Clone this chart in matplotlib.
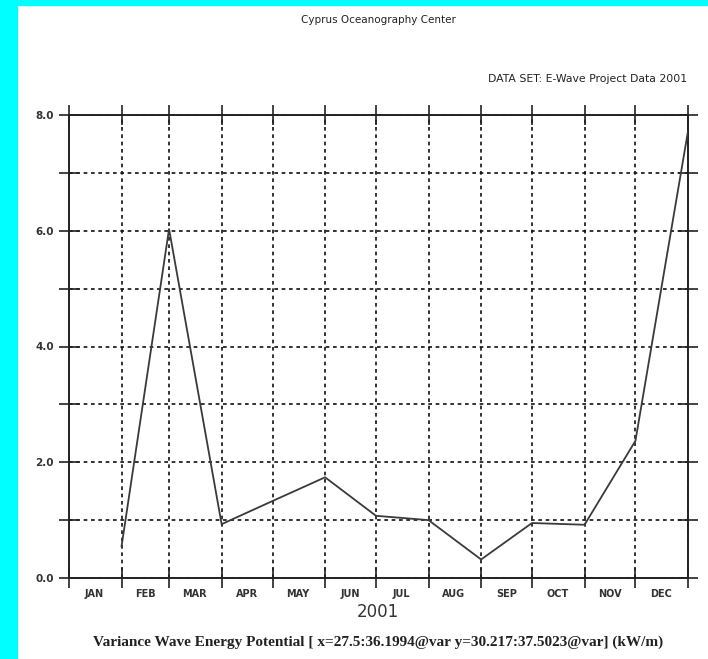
import numpy as np
import matplotlib.pyplot as plt
from matplotlib.patches import Rectangle

# Monthly series (values sit on the first day of each month)
dates = np.array(['2001-02-01', '2001-03-01', '2001-04-01', '2001-05-01',
                  '2001-06-01', '2001-07-01', '2001-08-01', '2001-09-01',
                  '2001-10-01', '2001-11-01', '2001-12-01', '2002-01-01'],
                 dtype='datetime64[D]')
values = [0.55, 6.03, 0.93, 1.33, 1.74, 1.075, 1.0, 0.32, 0.95, 0.92, 2.37, 7.72]

months = ['JAN', 'FEB', 'MAR', 'APR', 'MAY', 'JUN',
          'JUL', 'AUG', 'SEP', 'OCT', 'NOV', 'DEC']
y_ticks = [0, 1, 2, 3, 4, 5, 6, 7, 8]
y_labels = ['0.0', '', '2.0', '', '4.0', '', '6.0', '', '8.0']

title = 'Cyprus Oceanography Center'
dataset = 'DATA SET: E-Wave Project Data 2001'
year = '2001'
var_label = ('Variance Wave Energy Potential [ x=27.5:36.1994@var '
             'y=30.217:37.5023@var] (kW/m)')

month_starts = np.arange('2001-01', '2002-02', dtype='datetime64[M]').astype('datetime64[D]')
month_mids = month_starts[:-1] + (month_starts[1:] - month_starts[:-1]) // 2

fig = plt.figure(figsize=(7.08, 6.59), dpi=100)
fig.patches.append(Rectangle((0, 0), 17 / 708, 1, transform=fig.transFigure,
                             color='#00ffff', zorder=0))
fig.patches.append(Rectangle((0, 1 - 5 / 659), 1, 5 / 659, transform=fig.transFigure,
                             color='#00ffff', zorder=0))

ax = fig.add_axes([69 / 708, 1 - 578 / 659, (688 - 69) / 708, (578 - 115) / 659])
ax.plot(dates, values, color='#3a3a3a', lw=1.3, zorder=3)

ax.set_xlim(month_starts[0], month_starts[-1])
ax.set_ylim(0, 8)

ax.set_xticks(month_starts)
ax.set_xticklabels([''] * len(month_starts))
ax.set_xticks(month_mids, labels=months, minor=True)
ax.set_yticks(y_ticks, labels=y_labels)

ax.grid(True, which='major', color='#111111', lw=1.2, ls=(0, (2.2, 2.2)))
ax.tick_params(which='major', direction='inout', length=14, width=1.2,
               top=True, right=True, color='#222222', labelsize=7.5, pad=4)
ax.tick_params(axis='x', which='minor', length=0, pad=8, labelsize=7)
for lab in ax.get_xticklabels(minor=True):
    lab.set_family(['Liberation Sans Narrow', 'DejaVu Sans'])
    lab.set_fontweight('bold')
    lab.set_color('#333333')
for lab in ax.get_yticklabels():
    lab.set_fontweight('bold')
    lab.set_color('#333333')
for sp in ax.spines.values():
    sp.set_linewidth(1.4)
    sp.set_color('#222222')

fig.text(378 / 708, 1 - 20 / 659, title, ha='center', va='center', fontsize=7.5, color='#222222')
fig.text(687 / 708, 1 - 79 / 659, dataset, ha='right', va='center', fontsize=7.8, color='#222222')
fig.text(378 / 708, 1 - 612 / 659, year, ha='center', va='center', fontsize=12, color='#333333')
fig.text(378 / 708, 1 - 642 / 659, var_label, ha='center', va='center', fontsize=11,
         family='Liberation Serif', fontweight='bold', color='#222222')

fig.savefig('out.png', dpi=100)
